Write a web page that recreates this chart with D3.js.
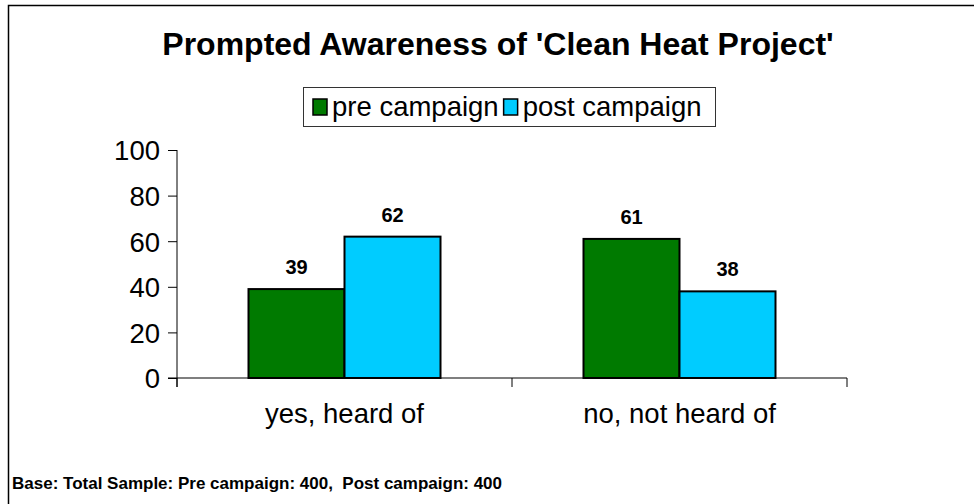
<!DOCTYPE html>
<html><head><meta charset="utf-8">
<script src="https://cdn.jsdelivr.net/npm/d3@7"></script>
<style>body{margin:0;background:#fff}svg{display:block;font-family:Arial,"Liberation Sans",sans-serif}</style>
</head><body>
<script>
const categories = ["yes, heard of", "no, not heard of"];
const seriesNames = ["pre campaign", "post campaign"];
const preValues = [39, 61];
const postValues = [62, 38];
const yTicks = [0, 20, 40, 60, 80, 100];
const colors = ["#007A00", "#00CCFF"];

const W = 974, H = 504;
const svg = d3.select("body").append("svg").attr("width", W).attr("height", H);

// outer frame
svg.append("rect").attr("x", 8.5).attr("y", 5.5).attr("width", 980).attr("height", 520)
  .attr("fill", "none").attr("stroke", "#000").attr("stroke-width", 1.5);

svg.append("text").attr("x", 498).attr("y", 55).attr("text-anchor", "middle")
  .attr("font-size", 32).attr("font-weight", "bold").text("Prompted Awareness of 'Clean Heat Project'");

const x0 = 177, x1 = 847, yb = 378, yt = 150;
const x = d3.scaleBand().domain(categories).range([x0, x1]);
const y = d3.scaleLinear().domain([0, 100]).range([yb, yt]);
const xs = d3.scaleBand().domain(seriesNames).range([0, 192]);

const data = categories.map((c, i) => ({c, vals: [preValues[i], postValues[i]]}));

// y axis
const yAx = svg.append("g").attr("transform", `translate(${x0},0)`)
  .call(d3.axisLeft(y).tickValues(yTicks).tickSize(9).tickPadding(8));
yAx.select(".domain").attr("stroke", "#000").attr("d", `M0,${yt}V${yb + 9}`);
yAx.selectAll("text").attr("font-size", 27.5).attr("fill", "#000").attr("font-family", "Arial, 'Liberation Sans', sans-serif").attr("dy", "0.36em");

// bars
const g = svg.append("g");
data.forEach(d => {
  const cx = x(d.c) + x.bandwidth() / 2 - 96;
  d.vals.forEach((v, j) => {
    g.append("rect").attr("x", cx + xs(seriesNames[j])).attr("y", y(v))
      .attr("width", xs.bandwidth()).attr("height", y(0) - y(v))
      .attr("fill", colors[j]).attr("stroke", "#000").attr("stroke-width", 2);
    g.append("text").attr("x", cx + xs(seriesNames[j]) + xs.bandwidth() / 2).attr("y", y(v) - 15)
      .attr("text-anchor", "middle").attr("font-size", 20).attr("font-weight", "bold").text(v);
  });
});

// x axis
const xAx = svg.append("g").attr("transform", `translate(0,${yb})`);
xAx.append("line").attr("x1", x0 - 9).attr("x2", x1).attr("y1", 0).attr("y2", 0).attr("stroke", "#000").attr("stroke-width", 1.2);
[x0, x0 + x.bandwidth(), x1].forEach(t => xAx.append("line").attr("x1", t).attr("x2", t).attr("y1", 0).attr("y2", 9).attr("stroke", "#000"));
categories.forEach(c => xAx.append("text").attr("x", x(c) + x.bandwidth() / 2).attr("y", 45)
  .attr("text-anchor", "middle").attr("font-size", 27.5).text(c));

// legend
const lg = svg.append("g");
lg.append("rect").attr("x", 303.5).attr("y", 87.5).attr("width", 412).attr("height", 39)
  .attr("fill", "#fff").attr("stroke", "#333").attr("stroke-width", 1);
let lx = 313;
seriesNames.forEach((s, i) => {
  lg.append("rect").attr("x", lx).attr("y", 99).attr("width", 14).attr("height", 16)
    .attr("fill", colors[i]).attr("stroke", "#000").attr("stroke-width", 1.5);
  const t = lg.append("text").attr("x", lx + 19).attr("y", 116).attr("font-size", 27.5).text(s);
  lx = lx + 19 + t.node().getComputedTextLength() + 5;
});

svg.append("text").attr("x", 12).attr("y", 489).attr("font-size", 17).attr("font-weight", "bold")
  .attr("xml:space", "preserve").style("white-space", "pre")
  .text("Base: Total Sample: Pre campaign: 400,  Post campaign: 400");
</script>
</body></html>
